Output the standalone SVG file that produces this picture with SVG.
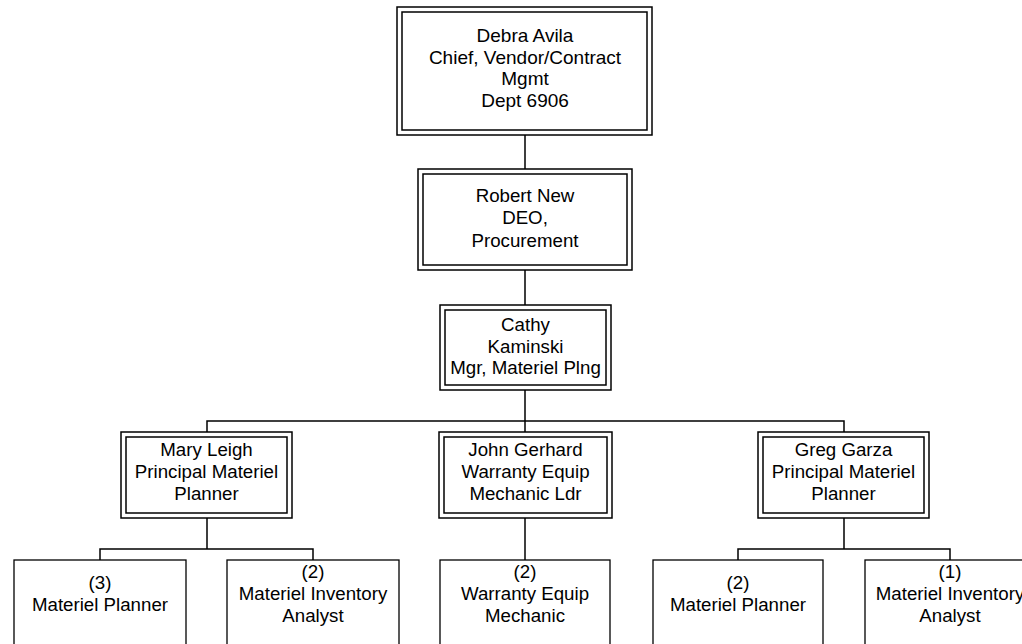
<svg xmlns="http://www.w3.org/2000/svg" width="1022" height="644" viewBox="0 0 1022 644">
<style>
.o{fill:#fff;stroke:#000;stroke-width:1.5}
.i{fill:none;stroke:#000;stroke-width:1.5}
.s{fill:#fff;stroke:#000;stroke-width:1.3}
text{font-family:"Liberation Sans",Arial,sans-serif;font-size:18.7px;fill:#000;text-anchor:middle}
.big{font-size:19px}
#connectors path{fill:none;stroke:#000;stroke-width:1.5}
</style>
<rect width="1022" height="644" fill="#fff"/>
<g id="connectors">
<path d="M525 135V169M525 270V305M525 390V421M207 432V421H844V432M525 421V432"/>
<path d="M207 518V549M100 560V549H313V560"/>
<path d="M525 518V560"/>
<path d="M844 518V549M738 560V549H950V560"/>
</g>
<g id="debra">
<rect class="o" x="397" y="7" width="255" height="128"/>
<rect class="i" x="402" y="12" width="245" height="118"/>
<text class="big" x="525" y="42">Debra Avila</text>
<text class="big" x="525" y="63.5">Chief, Vendor/Contract</text>
<text class="big" x="525" y="85">Mgmt</text>
<text class="big" x="525" y="106.5">Dept 6906</text>
</g>
<g id="robert">
<rect class="o" x="418" y="169" width="214" height="101"/>
<rect class="i" x="423" y="174" width="204" height="91"/>
<text x="525" y="201.5">Robert New</text>
<text x="525" y="224">DEO,</text>
<text x="525" y="246.5">Procurement</text>
</g>
<g id="cathy">
<rect class="o" x="440" y="305" width="171" height="85"/>
<rect class="i" x="445" y="310" width="161" height="75"/>
<text x="525.5" y="331">Cathy</text>
<text x="525.5" y="352.5">Kaminski</text>
<text x="525.5" y="374">Mgr, Materiel Plng</text>
</g>
<g id="mary">
<rect class="o" x="121" y="432" width="171" height="86"/>
<rect class="i" x="126" y="437" width="161" height="76"/>
<text x="206.5" y="456">Mary Leigh</text>
<text x="206.5" y="478">Principal Materiel</text>
<text x="206.5" y="500">Planner</text>
</g>
<g id="john">
<rect class="o" x="439" y="432" width="173" height="86"/>
<rect class="i" x="444" y="437" width="163" height="76"/>
<text x="525.5" y="456">John Gerhard</text>
<text x="525.5" y="478">Warranty Equip</text>
<text x="525.5" y="500">Mechanic Ldr</text>
</g>
<g id="greg">
<rect class="o" x="758" y="432" width="171" height="86"/>
<rect class="i" x="763" y="437" width="161" height="76"/>
<text x="843.5" y="456">Greg Garza</text>
<text x="843.5" y="478">Principal Materiel</text>
<text x="843.5" y="500">Planner</text>
</g>
<g id="planner3">
<rect class="s" x="14" y="560" width="172" height="100"/>
<text x="100" y="589">(3)</text>
<text x="100" y="611">Materiel Planner</text>
</g>
<g id="inventory2">
<rect class="s" x="227" y="560" width="172" height="100"/>
<text x="313" y="578">(2)</text>
<text x="313" y="600">Materiel Inventory</text>
<text x="313" y="622">Analyst</text>
</g>
<g id="mechanic2">
<rect class="s" x="440" y="560" width="170" height="100"/>
<text x="525" y="578">(2)</text>
<text x="525" y="600">Warranty Equip</text>
<text x="525" y="622">Mechanic</text>
</g>
<g id="planner2">
<rect class="s" x="653" y="560" width="170" height="100"/>
<text x="738" y="589">(2)</text>
<text x="738" y="611">Materiel Planner</text>
</g>
<g id="inventory1">
<rect class="s" x="865" y="560" width="170" height="100"/>
<text x="950" y="578">(1)</text>
<text x="950" y="600">Materiel Inventory</text>
<text x="950" y="622">Analyst</text>
</g>
</svg>
